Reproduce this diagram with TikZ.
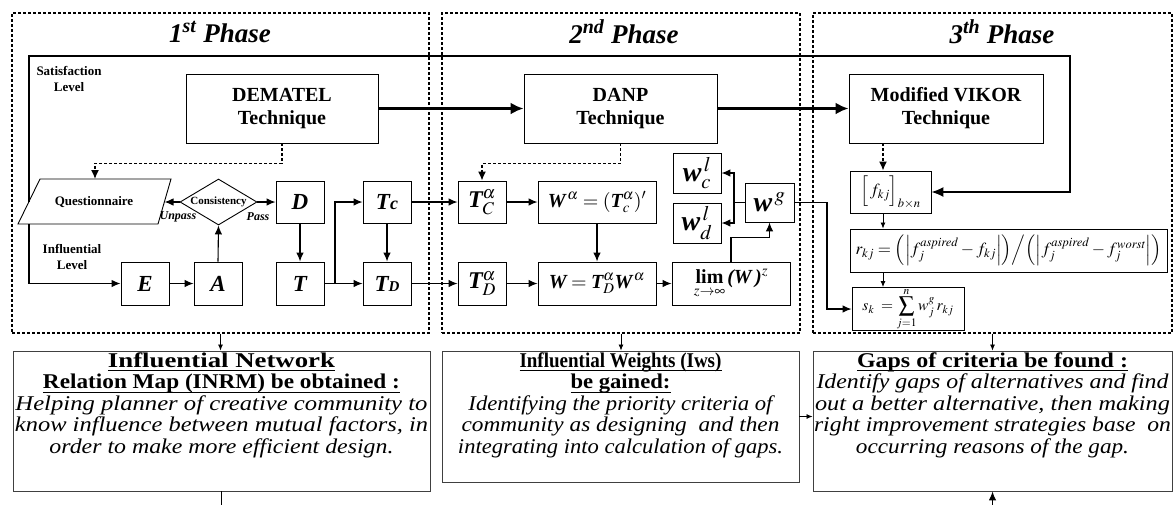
\documentclass[tikz,border=0pt]{standalone}
\usepackage{amsmath}
\usepackage{graphicx}
\usepackage{mathptmx}
\usepackage[no-math]{fontspec}
\setmainfont{Liberation Serif}
\usetikzlibrary{arrows.meta,shapes.geometric}
% bold italic letter inside formulas
\newcommand\bi[1]{\text{\bfseries\itshape #1}}
% stretch a line of text to a given width, keeping its height
\newcommand\fw[2]{\resizebox{#1}{\height}{#2}}
% heavier underline for the headings
\newcommand\ulbar[1]{\setbox0=\hbox{#1}\rlap{\rule[-4pt]{\wd0}{1.2pt}}\box0}
\begin{document}
\begin{tikzpicture}[x=1pt,y=-1pt,
  blk/.style={draw,line width=0.9pt,fill=white,inner sep=0pt,align=center},
  sz/.style 2 args={minimum width=#1pt,minimum height=#2pt},
  tech/.style={font=\fontsize{20}{23}\selectfont\bfseries},
  var/.style={font=\fontsize{23}{23}\selectfont\bfseries\itshape},
  phase/.style={draw,line width=1.4pt,dash pattern=on 3pt off 2pt,inner sep=0pt},
  ptitle/.style={font=\fontsize{27}{27}\selectfont\bfseries\itshape,inner sep=0pt},
  lvl/.style={font=\fontsize{13}{15.5}\selectfont\bfseries,align=center,inner sep=0pt},
  conn/.style={line width=1.1pt,-{Latex[length=9pt,width=7.5pt]}},
  smallconn/.style={line width=0.8pt,-{Latex[length=6pt,width=5pt]}},
  thickconn/.style={line width=3pt,-{Latex[length=13pt,width=12pt]}},
  dconn/.style={line width=1.4pt,dash pattern=on 3pt off 2pt,-{Latex[length=9pt,width=8pt]}},
  fbline/.style={line width=1.3pt},
  notebox/.style={draw=black!75,line width=0.9pt,fill=white,inner sep=0pt},
  notetext/.style={font=\fontsize{21}{21.5}\selectfont,align=center,inner sep=0pt,anchor=north}
]
\useasboundingbox (0,0) rectangle (1174,504);

% ---- the three phases ----
\node[phase,sz={417}{320}] (ph1) at (220.5,173) {};
\node[phase,sz={358}{320}] (ph2) at (621,173) {};
\node[phase,sz={359}{320}] (ph3) at (992.5,173) {};
\node[ptitle] (t1) at (220,32) {1\textsuperscript{st} Phase};
\node[ptitle] (t2) at (624,32) {2\textsuperscript{nd} Phase};
\node[ptitle] (t3) at (1002,32) {3\textsuperscript{th} Phase};

\node[lvl] (satlbl) at (69,79) {Satisfaction\\Level};
\node[lvl] (inflbl) at (72,257) {Influential\\Level};

% ---- techniques ----
\node[blk,tech,sz={192}{69}] (dematel) at (282,108.5) {DEMATEL\\Technique};
\node[blk,tech,sz={193}{69}] (danp) at (620.5,108.5) {DANP\\Technique};
\node[blk,tech,sz={194}{69}] (vikor) at (946,108.5) {Modified VIKOR\\Technique};

% ---- phase 1: DEMATEL steps ----
\draw[line width=0.9pt,fill=white] (40,179) -- (171,179) -- (158,224) -- (18,224) -- cycle;
\node[font=\fontsize{13}{13}\selectfont\bfseries,inner sep=0pt] (quest) at (94,202) {Questionnaire};
\coordinate (qtop) at (95,179);
\coordinate (qin) at (164.5,202);
\coordinate (qsat) at (29,201.5);
\coordinate (qinf) at (29,224);

\node[diamond,draw,line width=0.9pt,fill=white,aspect=1.67,inner sep=0pt,sz={77}{46},
      font=\fontsize{11}{11}\selectfont\bfseries] (cons) at (218.5,202) {Consistency};
\node[font=\fontsize{12}{12}\selectfont\bfseries\itshape,inner sep=0pt] (unpass) at (178,217) {Unpass};
\node[font=\fontsize{12}{12}\selectfont\bfseries\itshape,inner sep=0pt] (passlbl) at (258,217) {Pass};

\node[blk,var,sz={48}{42}] (D) at (300,202) {D};
\node[blk,var,sz={48}{43}] (T) at (300,283.5) {T};
\node[blk,var,sz={48}{43}] (E) at (145,283.5) {E};
\node[blk,var,sz={48}{43}] (A) at (218,283.5) {A};
\node[blk,var,sz={48}{42}] (Tc) at (387,202) {T{\fontsize{18}{18}\selectfont c}};
\node[blk,var,sz={48}{43}] (TD) at (387,283.5) {T{\fontsize{15}{15}\selectfont D}};

% ---- phase 2: DANP steps ----
\node[blk,sz={48}{42},font=\fontsize{24}{24}\selectfont] (TCa) at (482,202) {$\bi{T}^{\alpha}_{C}$};
\node[blk,sz={48}{43},font=\fontsize{24}{24}\selectfont] (TDa) at (482,283.5) {$\bi{T}^{\alpha}_{D}$};
\node[blk,sz={118}{42},font=\fontsize{20}{20}\selectfont] (Wa) at (597,202) {$\bi{W}^{\,\alpha}=(\bi{T}^{\alpha}_{c})'$};
\node[blk,sz={118}{43},font=\fontsize{20}{20}\selectfont] (Wd) at (597,283.5) {$\bi{W}=\bi{T}^{\alpha}_{D}\bi{W}^{\,\alpha}$};
\node[blk,sz={118}{43},font=\fontsize{20}{20}\selectfont] (lim) at (731,283.5) {$\mathop{\text{\bfseries lim}}\limits_{z\to\infty}\bi{(W\,)}^{z}$};
\node[blk,sz={49}{39},font=\fontsize{28}{28}\selectfont] (wg) at (769.5,202.5) {$\bi{w}^{\,g}$};
\node[blk,sz={48}{40},font=\fontsize{28}{28}\selectfont] (wcl) at (697,173) {$\bi{w}^{\,l}_{c}$};
\node[blk,sz={48}{40},font=\fontsize{28}{28}\selectfont] (wdl) at (697,223) {$\bi{w}^{\,l}_{d}$};

% ---- phase 3: modified VIKOR steps ----
\node[blk,sz={81}{42},font=\fontsize{17}{17}\selectfont] (fkj) at (890.5,192) {$\Big[\,f_{kj}\Big]_{b\times n}$};
\node[blk,sz={317}{43},font=\fontsize{17}{17}\selectfont] (rkj) at (1008.5,250.5)
  {$r_{kj}=\Bigl(\Bigl|f_{j}^{\mathit{aspired}}-f_{kj}\Bigr|\Bigr)\Big/\Bigl(\Bigl|f_{j}^{\mathit{aspired}}-f_{j}^{\mathit{worst}}\Bigr|\Bigr)$};
\node[blk,sz={112}{42},font=\fontsize{15.5}{15.5}\selectfont] (sk) at (908,309) {$s_{k}\;=\displaystyle\sum_{j=1}^{n}w_{j}^{g}\,r_{kj}$};
\coordinate (vx) at (883,0);

% ---- results ----
\node[notebox,sz={417}{140}] (box1) at (221.5,421) {};
\node[notebox,sz={357}{131}] (box2) at (620.5,416.5) {};
\node[notebox,sz={359}{140}] (box3) at (992.5,421) {};
\node[notetext] (box1txt) at (221.5,352.5) {%
  \fw{227pt}{\ulbar{\bfseries Influential Network}}\\
  \fw{357pt}{\ulbar{\bfseries Relation Map (INRM) be obtained :}}\\
  \fw{412pt}{\itshape Helping planner of creative community to}\\
  \fw{413pt}{\itshape know influence between mutual factors, in}\\
  \fw{344pt}{\itshape order to make more efficient design.}};
\node[notetext] (box2txt) at (620.5,352.5) {%
  \fw{202pt}{\ulbar{\bfseries Influential Weights (Iws)}}\\
  \fw{100pt}{\ulbar{\bfseries be gained:}}\\
  \fw{304pt}{\itshape Identifying the priority criteria of}\\
  \fw{318pt}{\itshape community as designing\ \ and then}\\
  \fw{325pt}{\itshape integrating into calculation of gaps.}};
\node[notetext] (box3txt) at (992.5,352.5) {%
  \fw{271pt}{\ulbar{\bfseries Gaps of criteria be found :}}\\
  \fw{352pt}{\itshape Identify gaps of alternatives and find}\\
  \fw{355pt}{\itshape out a better alternative, then making}\\
  \fw{357pt}{\itshape right improvement strategies base\ \ on}\\
  \fw{273pt}{\itshape occurring reasons of the gap.}};

% ---- connectors ----
\coordinate (loopNE) at (1070,56);
\draw[fbline,-{Latex[length=12pt,width=10pt]}] (qsat) |- (loopNE) |- (fkj.east);
\draw[conn,fbline] (qinf) |- (E.west);

\draw[thickconn] (dematel.east) -- (danp.west);
\draw[thickconn] (danp.east) -- (vikor.west);
\draw[dconn] (dematel.south) -- ++(0,20) -| (qtop);
\draw[dconn] (danp.south) -- ++(0,20) -| (TCa.north);
\draw[dconn] (vikor.south -| vx) -- (fkj.north -| vx);

\draw[conn] (cons.west) -- (qin);
\draw[conn] (cons.east) -- (D.west);
\draw[conn] (A.north) -- (cons.south);
\draw[conn] (E.east) -- (A.west);
\draw[conn] (D.south) -- (T.north);
\coordinate (tsplit) at (335,283.5);
\draw[conn] (T.east) -- (TD.west);
\draw[conn] (tsplit) |- (Tc.west);
\draw[conn] (Tc.south) -- (TD.north);
\draw[conn] (Tc.east) -- (TCa.west);
\draw[conn] (TD.east) -- (TDa.west);

\draw[conn] (TCa.east) -- (Wa.west);
\draw[conn] (TDa.east) -- (Wd.west);
\draw[conn] (Wa.south) -- (Wd.north);
\draw[conn] (Wd.east) -- (lim.west);
\draw[conn] (lim.north) -- ++(0,-24) -| (wg.south);
\coordinate (wsplit) at (734,202.5);
\draw[conn] (wg.west) -- (wsplit) |- (wcl.east);
\draw[conn] (wsplit) |- (wdl.east);
\coordinate (wgturn) at (827,202.5);
\draw[conn] (wg.east) -- (wgturn) |- (sk.west);

\draw[smallconn] (fkj.south -| vx) -- (rkj.north -| vx);
\draw[smallconn] (rkj.south -| vx) -- (sk.north -| vx);

\draw[smallconn] (ph1.south) -- (ph1.south |- box1.north);
\draw[smallconn] (ph2.south) -- (ph2.south |- box2.north);
\draw[smallconn] (ph3.south) -- (ph3.south |- box3.north);
\draw[smallconn] (box2.east) -- (box3.west |- box2.east);
\draw[conn] (box1.south) -- ++(0,21) -| (box3.south);
\end{tikzpicture}
\end{document}
